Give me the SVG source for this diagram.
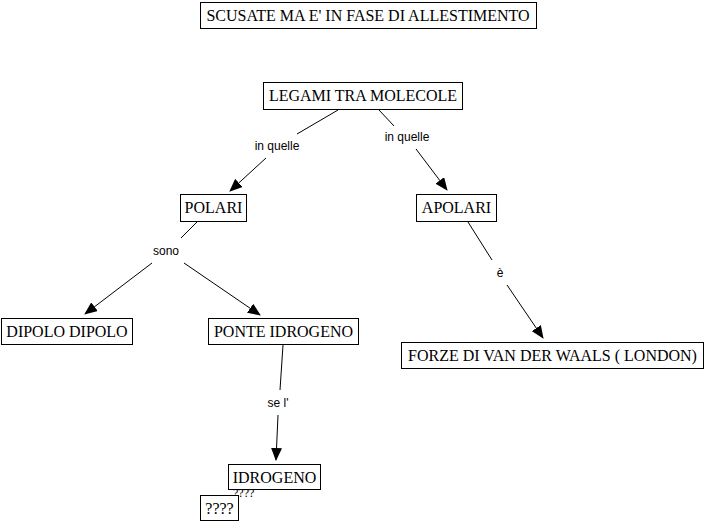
<svg xmlns="http://www.w3.org/2000/svg" width="704" height="524" viewBox="0 0 704 524">
<style>
.box{fill:#fff;stroke:#000;stroke-width:1}
.nt{font-family:"Liberation Serif",serif;font-size:16px;fill:#000;text-anchor:middle}
.lt{font-family:"Liberation Sans",sans-serif;font-size:12px;fill:#000;text-anchor:middle}
.ln{stroke:#000;stroke-width:1;fill:none}
</style>
<defs>
<marker id="ah" markerWidth="13" markerHeight="11" refX="12" refY="5.5" orient="auto" markerUnits="userSpaceOnUse">
<path d="M0,0 L13,5.5 L0,11 Z" fill="#000"/>
</marker>
</defs>
<rect width="704" height="524" fill="#fff"/>
<g id="connectors">
<line class="ln" x1="338" y1="110" x2="297" y2="134"/>
<line class="ln" x1="266" y1="158" x2="230" y2="191" marker-end="url(#ah)"/>
<text class="lt" x="277" y="150">in quelle</text>
<line class="ln" x1="379" y1="110" x2="394" y2="126"/>
<line class="ln" x1="416" y1="149" x2="447" y2="190" marker-end="url(#ah)"/>
<text class="lt" x="407" y="141">in quelle</text>
<line class="ln" x1="197" y1="222" x2="181" y2="238"/>
<text class="lt" x="166" y="255">sono</text>
<line class="ln" x1="152" y1="263" x2="85" y2="314" marker-end="url(#ah)"/>
<line class="ln" x1="184" y1="263" x2="260" y2="315" marker-end="url(#ah)"/>
<line class="ln" x1="283" y1="345" x2="280" y2="390"/>
<text class="lt" x="278" y="407">se l'</text>
<line class="ln" x1="278" y1="415" x2="276" y2="460" marker-end="url(#ah)"/>
<line class="ln" x1="468" y1="222" x2="492" y2="260"/>
<text class="lt" x="500" y="277">è</text>
<line class="ln" x1="507" y1="285" x2="543" y2="338" marker-end="url(#ah)"/>
</g>
<g id="title"><rect class="box" x="200.5" y="2.5" width="336" height="26"/><text class="nt" x="368" y="21">SCUSATE MA E' IN FASE DI ALLESTIMENTO</text></g>
<g id="legami"><rect class="box" x="263.5" y="82.5" width="199" height="27"/><text class="nt" x="363" y="101">LEGAMI TRA MOLECOLE</text></g>
<g id="polari"><rect class="box" x="180.5" y="194.5" width="66" height="27"/><text class="nt" x="213.5" y="213">POLARI</text></g>
<g id="apolari"><rect class="box" x="416.5" y="194.5" width="80" height="27"/><text class="nt" x="456.5" y="213">APOLARI</text></g>
<g id="dipolo"><rect class="box" x="1.5" y="318.5" width="131" height="26"/><text class="nt" x="67" y="337">DIPOLO DIPOLO</text></g>
<g id="ponte"><rect class="box" x="208.5" y="318.5" width="150" height="26"/><text class="nt" x="283.5" y="337">PONTE IDROGENO</text></g>
<g id="forze"><rect class="box" x="401.5" y="342.5" width="302" height="26"/><text class="nt" x="552.5" y="361">FORZE DI VAN DER WAALS ( LONDON)</text></g>
<g id="small-q"><text class="nt" style="font-size:12px;text-anchor:start" x="233" y="497">????</text></g>
<g id="idrogeno"><rect class="box" x="228.5" y="464.5" width="92" height="25"/><text class="nt" x="274.5" y="483">IDROGENO</text></g>
<g id="qbox"><rect class="box" x="200.5" y="495.5" width="38" height="25"/><text class="nt" x="219.5" y="514">????</text></g>
</svg>
